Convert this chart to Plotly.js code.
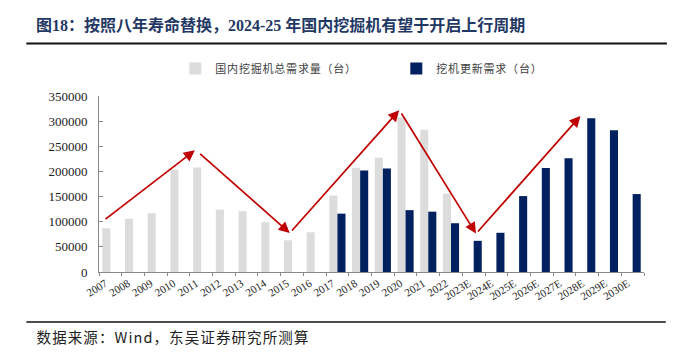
<!DOCTYPE html>
<html>
<head>
<meta charset="utf-8">
<script src="https://cdn.plot.ly/plotly-3.0.1.min.js"></script>
<style>
html,body{margin:0;padding:0;background:#fff;}
#chart{width:686px;height:355px;}
#chart .legendtext{letter-spacing:0.8px !important;}
#chart text.annotation-text{letter-spacing:1.1px !important;}
</style>
</head>
<body>
<div id="chart"></div>
<script>
// ---- data ----
var categories = ["2007","2008","2009","2010","2011","2012","2013","2014","2015","2016","2017","2018","2019","2020","2021","2022","2023E","2024E","2025E","2026E","2027E","2028E","2029E","2030E"];
var totalDemand = [87000,106000,117000,204000,208000,124000,121000,99000,63000,79000,152000,207000,227000,307000,283000,156000,null,null,null,null,null,null,null,null];
var replacementDemand = [null,null,null,null,null,null,null,null,null,null,116000,202000,206000,123000,120000,97000,62000,78000,151000,207000,226000,306000,282000,155000];
var seriesNames = ["国内挖掘机总需求量（台）", "挖机更新需求（台）"];
var yTicks = [0,50000,100000,150000,200000,250000,300000,350000];
// trend arrows: [tailIndex, tailValue, headIndex, headValue]
var arrowTails = [[-0.28,102800],[3.89,237400],[7.94,79500],[12.78,318200],[16.13,77600]];
var arrowHeads = [[3.72,242000],[7.9,77600],[12.72,321600],[16.1,76400],[20.7,310200]];

var titleText = "图18：按照八年寿命替换，2024-25 年国内挖掘机有望于开启上行周期";
var sourceText = "数据来源：Wind，东吴证券研究所测算";

var traces = [
  {type:"bar", name:seriesNames[0], x:categories, y:totalDemand, marker:{color:"#DCDCDC"}},
  {type:"bar", name:seriesNames[1], x:categories, y:replacementDemand, marker:{color:"#002060"}}
];

var annotations = arrowHeads.map(function(h,i){
  return {x:h[0], y:h[1], xref:"x", yref:"y", ax:arrowTails[i][0], ay:arrowTails[i][1], axref:"x", ayref:"y",
    text:"", showarrow:true, arrowhead:2, arrowsize:1.3, arrowwidth:1.7, arrowcolor:"#C00000", standoff:0, startstandoff:0};
});
annotations.push({xref:"paper", yref:"paper", x:-0.0988, y:-0.365, xanchor:"left", yanchor:"middle",
  text:sourceText, showarrow:false, font:{family:"Noto Sans CJK SC", size:14.5, color:"#222"}});

var layout = {
  width:686, height:355,
  margin:{l:99, r:42, t:96, b:83, pad:0},
  paper_bgcolor:"#fff", plot_bgcolor:"#fff",
  barmode:"group", bargap:0.29, bargroupgap:0,
  title:{text:titleText, x:36/686, xanchor:"left", xref:"container", y:1-25/355, yanchor:"middle", yref:"container",
    font:{family:"Liberation Serif, Noto Sans CJK SC", size:16, color:"#1F3864", weight:"bold"}},
  showlegend:true,
  legend:{orientation:"h", x:0.14, xanchor:"left", y:1.156, yanchor:"middle", yref:"paper",
    font:{family:"Noto Sans CJK SC", size:11, color:"#404040"}, entrywidth:176, entrywidthmode:"pixels",
    itemclick:false, bgcolor:"rgba(0,0,0,0)"},
  xaxis:{type:"category", showgrid:false, showline:true, linecolor:"#888", linewidth:1,
    ticks:"outside", ticklen:3, tickcolor:"#888", tickson:"boundaries", tickangle:-32,
    tickfont:{family:"Liberation Serif", size:11, color:"#222"}, ticklabelshift:-5, ticklabelstandoff:0, zeroline:false, fixedrange:true},
  yaxis:{range:[0,350000], tickvals:yTicks, tickformat:"d", showgrid:false, showline:true, linecolor:"#888", linewidth:1,
    ticks:"inside", ticklen:4, tickcolor:"#888", tickfont:{family:"Liberation Serif", size:13, color:"#222"},
    ticklabelstandoff:8, zeroline:false, fixedrange:true},
  shapes:[
    {type:"line", xref:"paper", yref:"paper", x0:-0.1333, x1:1.042, y0:1.2977, y1:1.2977, line:{color:"#111", width:2}},
    {type:"line", xref:"paper", yref:"paper", x0:-0.1333, x1:1.04, y0:-0.284, y1:-0.284, line:{color:"#111", width:1.5}}
  ],
  annotations:annotations
};

Plotly.newPlot("chart", traces, layout, {staticPlot:true, displayModeBar:false});
</script>
</body>
</html>
